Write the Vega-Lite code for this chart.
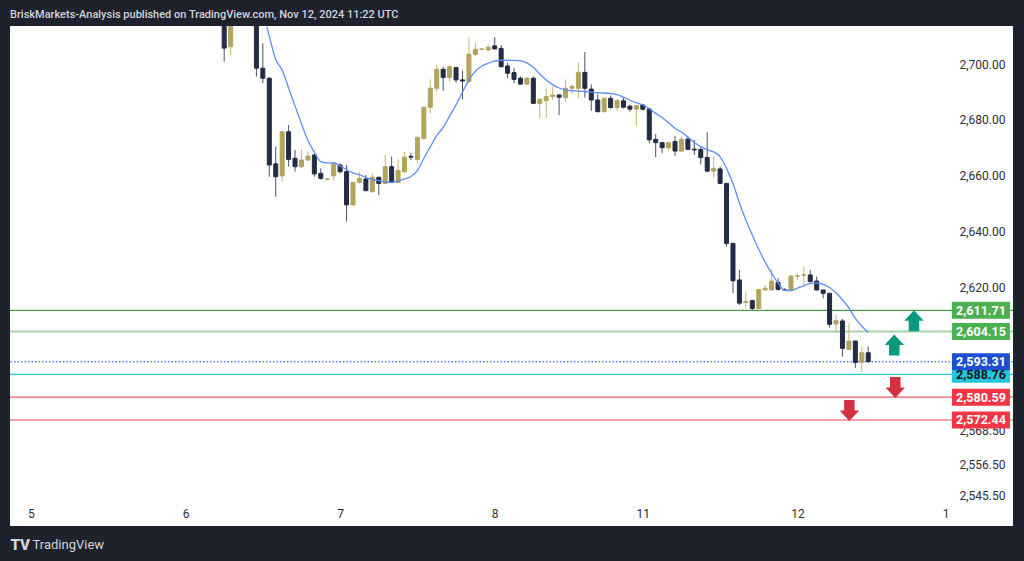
{
  "$schema": "https://vega.github.io/schema/vega-lite/v6.json",
  "width": 1003,
  "height": 500,
  "autosize": {"type": "none"},
  "padding": {"left": 10, "top": 26, "right": 11, "bottom": 35},
  "background": "#1e222d",
  "view": {"fill": "#ffffff", "stroke": null},
  "config": {"font": "Roboto"},
  "title": {
    "text": "BriskMarkets-Analysis published on TradingView.com, Nov 12, 2024 11:22 UTC",
    "anchor": "start",
    "frame": "group",
    "baseline": "alphabetic",
    "offset": 9,
    "dy": 12,
    "color": "#d1d4dc",
    "font": "Roboto",
    "fontSize": 11,
    "fontWeight": 500
  },
  "datasets": {
    "candles": [
      {"t": 30, "o": 2713.6, "h": 2713.6, "l": 2700.8, "c": 2705.7},
      {"t": 31, "o": 2706.2, "h": 2713.6, "l": 2703.2, "c": 2713.6},
      {"t": 35, "o": 2713.6, "h": 2713.6, "l": 2695.5, "c": 2698.5},
      {"t": 36, "o": 2698.5, "h": 2707.4, "l": 2693.1, "c": 2694.9},
      {"t": 37, "o": 2694.9, "h": 2695.3, "l": 2659.6, "c": 2663.8},
      {"t": 38, "o": 2664.2, "h": 2670.4, "l": 2652.4, "c": 2659.6},
      {"t": 39, "o": 2659.9, "h": 2676.0, "l": 2657.8, "c": 2675.7},
      {"t": 40, "o": 2675.7, "h": 2678.1, "l": 2663.2, "c": 2665.8},
      {"t": 41, "o": 2666.2, "h": 2669.2, "l": 2661.4, "c": 2663.2},
      {"t": 42, "o": 2663.2, "h": 2669.4, "l": 2662.6, "c": 2665.6},
      {"t": 43, "o": 2665.6, "h": 2668.6, "l": 2665.3, "c": 2667.0},
      {"t": 44, "o": 2667.4, "h": 2667.8, "l": 2659.6, "c": 2660.6},
      {"t": 45, "o": 2660.8, "h": 2662.6, "l": 2658.6, "c": 2659.0},
      {"t": 46, "o": 2658.6, "h": 2658.9, "l": 2658.4, "c": 2658.8},
      {"t": 47, "o": 2659.9, "h": 2664.4, "l": 2658.2, "c": 2664.2},
      {"t": 48, "o": 2663.8, "h": 2664.4, "l": 2660.8, "c": 2661.4},
      {"t": 49, "o": 2661.4, "h": 2663.8, "l": 2643.5, "c": 2649.5},
      {"t": 50, "o": 2649.5, "h": 2657.8, "l": 2649.3, "c": 2657.5},
      {"t": 51, "o": 2657.5, "h": 2661.4, "l": 2657.2, "c": 2659.0},
      {"t": 52, "o": 2658.8, "h": 2660.2, "l": 2654.4, "c": 2654.6},
      {"t": 53, "o": 2654.2, "h": 2660.8, "l": 2654.0, "c": 2659.4},
      {"t": 54, "o": 2659.4, "h": 2659.6, "l": 2653.0, "c": 2657.2},
      {"t": 55, "o": 2657.2, "h": 2667.4, "l": 2657.0, "c": 2663.2},
      {"t": 56, "o": 2663.2, "h": 2666.8, "l": 2657.3, "c": 2657.5},
      {"t": 57, "o": 2657.5, "h": 2665.8, "l": 2657.3, "c": 2661.8},
      {"t": 58, "o": 2661.4, "h": 2668.6, "l": 2660.8, "c": 2666.6},
      {"t": 59, "o": 2666.9, "h": 2668.2, "l": 2665.6, "c": 2666.6},
      {"t": 60, "o": 2665.8, "h": 2674.0, "l": 2664.4, "c": 2673.7},
      {"t": 61, "o": 2673.3, "h": 2684.8, "l": 2672.8, "c": 2684.5},
      {"t": 62, "o": 2684.5, "h": 2694.5, "l": 2682.3, "c": 2691.3},
      {"t": 63, "o": 2691.3, "h": 2699.6, "l": 2690.1, "c": 2698.1},
      {"t": 64, "o": 2698.1, "h": 2699.0, "l": 2690.4, "c": 2695.2},
      {"t": 65, "o": 2695.2, "h": 2699.6, "l": 2693.7, "c": 2699.0},
      {"t": 66, "o": 2698.7, "h": 2699.0, "l": 2693.4, "c": 2694.3},
      {"t": 67, "o": 2694.3, "h": 2697.6, "l": 2687.3, "c": 2693.9},
      {"t": 68, "o": 2693.7, "h": 2709.8, "l": 2693.1, "c": 2703.5},
      {"t": 69, "o": 2703.5, "h": 2707.6, "l": 2702.9, "c": 2705.3},
      {"t": 70, "o": 2705.2, "h": 2705.5, "l": 2705.0, "c": 2705.4},
      {"t": 71, "o": 2705.0, "h": 2707.0, "l": 2704.7, "c": 2706.0},
      {"t": 72, "o": 2706.5, "h": 2709.6, "l": 2705.2, "c": 2705.4},
      {"t": 73, "o": 2705.6, "h": 2706.8, "l": 2698.8, "c": 2699.0},
      {"t": 74, "o": 2699.3, "h": 2700.5, "l": 2694.9, "c": 2696.7},
      {"t": 75, "o": 2696.9, "h": 2698.5, "l": 2693.1, "c": 2694.5},
      {"t": 76, "o": 2694.9, "h": 2695.5, "l": 2692.6, "c": 2692.8},
      {"t": 77, "o": 2692.8, "h": 2695.2, "l": 2692.6, "c": 2694.9},
      {"t": 78, "o": 2694.9, "h": 2695.5, "l": 2685.6, "c": 2685.9},
      {"t": 79, "o": 2685.9, "h": 2687.7, "l": 2680.5, "c": 2687.3},
      {"t": 80, "o": 2686.8, "h": 2691.3, "l": 2680.5, "c": 2688.3},
      {"t": 81, "o": 2688.3, "h": 2691.9, "l": 2687.1, "c": 2688.9},
      {"t": 82, "o": 2688.9, "h": 2689.1, "l": 2681.7, "c": 2688.1},
      {"t": 83, "o": 2687.9, "h": 2694.5, "l": 2686.5, "c": 2691.3},
      {"t": 84, "o": 2691.3, "h": 2692.7, "l": 2689.1, "c": 2691.9},
      {"t": 85, "o": 2691.3, "h": 2700.6, "l": 2687.7, "c": 2697.0},
      {"t": 86, "o": 2697.0, "h": 2704.3, "l": 2687.9, "c": 2691.3},
      {"t": 87, "o": 2691.0, "h": 2692.7, "l": 2683.2, "c": 2687.1},
      {"t": 88, "o": 2687.1, "h": 2689.1, "l": 2682.7, "c": 2682.9},
      {"t": 89, "o": 2682.9, "h": 2688.0, "l": 2682.7, "c": 2687.7},
      {"t": 90, "o": 2687.7, "h": 2688.7, "l": 2683.9, "c": 2684.4},
      {"t": 91, "o": 2684.4, "h": 2687.5, "l": 2683.2, "c": 2686.9},
      {"t": 92, "o": 2686.8, "h": 2687.9, "l": 2684.1, "c": 2684.5},
      {"t": 93, "o": 2684.9, "h": 2685.5, "l": 2682.9, "c": 2683.8},
      {"t": 94, "o": 2683.8, "h": 2685.3, "l": 2677.9, "c": 2685.1},
      {"t": 95, "o": 2685.3, "h": 2685.7, "l": 2683.3, "c": 2683.8},
      {"t": 96, "o": 2683.9, "h": 2684.1, "l": 2671.6, "c": 2672.8},
      {"t": 97, "o": 2673.0, "h": 2674.9, "l": 2666.6, "c": 2671.8},
      {"t": 98, "o": 2671.8, "h": 2672.0, "l": 2668.0, "c": 2670.0},
      {"t": 99, "o": 2670.0, "h": 2672.2, "l": 2668.8, "c": 2671.8},
      {"t": 100, "o": 2672.2, "h": 2674.3, "l": 2667.1, "c": 2668.8},
      {"t": 101, "o": 2668.8, "h": 2674.0, "l": 2668.6, "c": 2673.0},
      {"t": 102, "o": 2673.1, "h": 2674.0, "l": 2669.2, "c": 2669.4},
      {"t": 103, "o": 2669.5, "h": 2672.8, "l": 2667.4, "c": 2669.2},
      {"t": 104, "o": 2669.4, "h": 2670.4, "l": 2664.0, "c": 2666.5},
      {"t": 105, "o": 2666.5, "h": 2675.5, "l": 2661.2, "c": 2661.6},
      {"t": 106, "o": 2661.6, "h": 2666.8, "l": 2659.3, "c": 2662.6},
      {"t": 107, "o": 2662.4, "h": 2663.2, "l": 2656.9, "c": 2657.2},
      {"t": 108, "o": 2657.2, "h": 2657.4, "l": 2634.5, "c": 2635.7},
      {"t": 109, "o": 2635.7, "h": 2636.0, "l": 2617.8, "c": 2622.3},
      {"t": 110, "o": 2622.6, "h": 2626.2, "l": 2613.6, "c": 2614.3},
      {"t": 111, "o": 2614.6, "h": 2618.4, "l": 2612.4, "c": 2614.9},
      {"t": 112, "o": 2615.2, "h": 2615.5, "l": 2611.8, "c": 2612.4},
      {"t": 113, "o": 2612.4, "h": 2619.3, "l": 2611.0, "c": 2619.2},
      {"t": 114, "o": 2619.0, "h": 2620.8, "l": 2618.9, "c": 2619.6},
      {"t": 115, "o": 2619.0, "h": 2626.5, "l": 2618.9, "c": 2622.2},
      {"t": 116, "o": 2621.7, "h": 2623.2, "l": 2618.8, "c": 2619.2},
      {"t": 117, "o": 2619.2, "h": 2619.6, "l": 2618.6, "c": 2619.0},
      {"t": 118, "o": 2619.0, "h": 2624.2, "l": 2618.4, "c": 2624.0},
      {"t": 119, "o": 2623.9, "h": 2625.0, "l": 2622.6, "c": 2624.1},
      {"t": 120, "o": 2624.3, "h": 2627.4, "l": 2620.8, "c": 2624.5},
      {"t": 121, "o": 2624.4, "h": 2626.2, "l": 2621.8, "c": 2622.0},
      {"t": 122, "o": 2622.2, "h": 2623.8, "l": 2618.8, "c": 2619.0},
      {"t": 123, "o": 2619.0, "h": 2619.2, "l": 2616.0, "c": 2617.8},
      {"t": 124, "o": 2617.8, "h": 2618.0, "l": 2605.5, "c": 2606.7},
      {"t": 125, "o": 2606.8, "h": 2610.0, "l": 2603.8, "c": 2608.0},
      {"t": 126, "o": 2607.9, "h": 2608.6, "l": 2595.1, "c": 2598.1},
      {"t": 127, "o": 2597.7, "h": 2607.0, "l": 2597.5, "c": 2600.7},
      {"t": 128, "o": 2600.7, "h": 2600.9, "l": 2591.1, "c": 2593.0},
      {"t": 129, "o": 2593.1, "h": 2598.7, "l": 2589.5, "c": 2596.5},
      {"t": 130, "o": 2596.5, "h": 2598.7, "l": 2593.0, "c": 2593.31}
    ],
    "ema": [
      {"t": 36.6, "v": 2713.4}, {"t": 37, "v": 2710.0}, {"t": 38, "v": 2701.6}, {"t": 39, "v": 2697.8},
      {"t": 40, "v": 2691.4}, {"t": 41, "v": 2685.0}, {"t": 42, "v": 2678.6}, {"t": 43, "v": 2672.6},
      {"t": 44, "v": 2668.4}, {"t": 45, "v": 2665.0}, {"t": 46, "v": 2664.5}, {"t": 47, "v": 2664.6},
      {"t": 48, "v": 2663.5}, {"t": 49, "v": 2662.1}, {"t": 50, "v": 2661.0}, {"t": 51, "v": 2660.3},
      {"t": 52, "v": 2659.3}, {"t": 53, "v": 2658.6}, {"t": 54, "v": 2658.2}, {"t": 55, "v": 2657.8},
      {"t": 56, "v": 2657.6}, {"t": 57, "v": 2658.0}, {"t": 58, "v": 2658.8}, {"t": 59, "v": 2659.7},
      {"t": 60, "v": 2661.8}, {"t": 61, "v": 2666.2}, {"t": 62, "v": 2670.3}, {"t": 63, "v": 2674.3},
      {"t": 64, "v": 2677.3}, {"t": 65, "v": 2681.3}, {"t": 66, "v": 2685.4}, {"t": 67, "v": 2689.9},
      {"t": 68, "v": 2694.3}, {"t": 69, "v": 2697.4}, {"t": 70, "v": 2699.3}, {"t": 71, "v": 2700.3},
      {"t": 72, "v": 2701.0}, {"t": 73, "v": 2701.4}, {"t": 74, "v": 2701.3}, {"t": 75, "v": 2701.3},
      {"t": 76, "v": 2701.2}, {"t": 77, "v": 2700.4}, {"t": 78, "v": 2698.8}, {"t": 79, "v": 2696.4},
      {"t": 80, "v": 2694.3}, {"t": 81, "v": 2692.6}, {"t": 82, "v": 2691.4}, {"t": 83, "v": 2690.7},
      {"t": 84, "v": 2690.4}, {"t": 85, "v": 2690.3}, {"t": 86, "v": 2690.1}, {"t": 87, "v": 2689.9},
      {"t": 88, "v": 2689.7}, {"t": 89, "v": 2689.6}, {"t": 90, "v": 2689.4}, {"t": 91, "v": 2689.0},
      {"t": 92, "v": 2688.1}, {"t": 93, "v": 2687.0}, {"t": 94, "v": 2686.1}, {"t": 95, "v": 2685.4},
      {"t": 96, "v": 2684.0}, {"t": 97, "v": 2682.3}, {"t": 98, "v": 2680.8}, {"t": 99, "v": 2678.9},
      {"t": 100, "v": 2677.0}, {"t": 101, "v": 2675.6}, {"t": 102, "v": 2673.8}, {"t": 103, "v": 2671.9},
      {"t": 104, "v": 2670.4}, {"t": 105, "v": 2669.3}, {"t": 106, "v": 2668.5}, {"t": 107, "v": 2666.8},
      {"t": 108, "v": 2662.6}, {"t": 109, "v": 2657.2}, {"t": 110, "v": 2650.2}, {"t": 111, "v": 2644.1},
      {"t": 112, "v": 2638.7}, {"t": 113, "v": 2633.6}, {"t": 114, "v": 2629.0}, {"t": 115, "v": 2625.0},
      {"t": 116, "v": 2621.5}, {"t": 117, "v": 2618.9}, {"t": 118, "v": 2618.8}, {"t": 119, "v": 2619.7},
      {"t": 120, "v": 2620.5}, {"t": 121, "v": 2621.4}, {"t": 122, "v": 2621.5}, {"t": 123, "v": 2621.0},
      {"t": 124, "v": 2619.9}, {"t": 125, "v": 2618.0}, {"t": 126, "v": 2615.5}, {"t": 127, "v": 2612.6},
      {"t": 128, "v": 2608.8}, {"t": 129, "v": 2606.0}, {"t": 130, "v": 2603.8}
    ],
    "levels": [
      {"k": "g1", "p": 2611.71},
      {"k": "g2", "p": 2604.15},
      {"k": "cy", "p": 2588.76},
      {"k": "last", "p": 2593.31},
      {"k": "r1", "p": 2580.59},
      {"k": "r2", "p": 2572.44}
    ],
    "arrows": [
      {"t": 134.05, "p": 2599.3, "dir": "up"},
      {"t": 137.1, "p": 2608.0, "dir": "up"},
      {"t": 134.2, "p": 2584.05, "dir": "down"},
      {"t": 127.07, "p": 2575.8, "dir": "down"}
    ]
  },
  "layer": [
    {
      "data": {"name": "levels"},
      "mark": {"type": "rule", "clip": true},
      "encoding": {
        "y": {"field": "p", "type": "quantitative", "scale": {"domain": [2534.41, 2713.62], "nice": false, "zero": false},
          "axis": {
            "orient": "right",
            "values": [2700, 2680, 2660, 2640, 2620, 2568.5, 2556.5, 2545.5],
            "format": ",.2f",
            "domain": false, "ticks": false, "grid": false,
            "labelAlign": "right", "labelPadding": -8, "labelBaseline": "middle",
            "labelColor": "#2a2e39", "labelFontSize": 12, "labelFont": "Roboto",
            "labelOverlap": false, "labelFlush": false,
            "title": "TV", "titleAngle": 0, "titleAlign": "left", "titleBaseline": "middle",
            "titleX": -1003, "titleY": 518, "titleColor": "#d1d4dc", "titleFont": "Roboto",
            "titleFontSize": 15, "titleFontWeight": 900
          }},
        "color": {
          "condition": [
            {"test": "datum.k == 'g1'", "value": "#43a047"},
            {"test": "datum.k == 'g2'", "value": "#a5d6a7"},
            {"test": "datum.k == 'cy'", "value": "#26c6da"},
            {"test": "datum.k == 'last'", "value": "#5b7fe8"},
            {"test": "datum.k == 'r1'", "value": "#ef5a66"}
          ],
          "value": "#f5a3aa"
        },
        "strokeWidth": {
          "condition": [
            {"test": "datum.k == 'g2' || datum.k == 'r2'", "value": 2},
            {"test": "datum.k == 'last'", "value": 1.5}
          ],
          "value": 1.2
        },
        "strokeDash": {
          "condition": {"test": "datum.k == 'last'", "value": [1.5, 2]},
          "value": [1, 0]
        }
      }
    },
    {
      "data": {"name": "candles"},
      "mark": {"type": "rule", "clip": true, "strokeWidth": 1},
      "encoding": {
        "x": {"field": "t", "type": "quantitative", "scale": {"domain": [-3.26, 152.48], "nice": false, "zero": false, "padding": 0},
          "axis": {
            "values": [0, 24, 48, 72, 95, 119, 142],
            "labelExpr": "datum.value == 0 ? '5' : datum.value == 24 ? '6' : datum.value == 48 ? '7' : datum.value == 72 ? '8' : datum.value == 95 ? '11' : datum.value == 119 ? '12' : '1'",
            "domain": false, "ticks": false, "grid": false,
            "labelPadding": -13, "labelBaseline": "middle",
            "labelColor": "#2a2e39", "labelFontSize": 12, "labelFont": "Roboto",
            "labelFlush": false, "labelOverlap": false,
            "title": "TradingView", "titleAnchor": "start", "titleAlign": "left", "titleBaseline": "middle",
            "titleX": 22, "titleY": 18, "titleColor": "#d1d4dc", "titleFont": "Roboto",
            "titleFontSize": 13, "titleFontWeight": "normal"
          }},
        "y": {"field": "l", "type": "quantitative", "scale": {"domain": [2534.41, 2713.62], "nice": false, "zero": false},
          "axis": {
            "orient": "right",
            "values": [2700, 2680, 2660, 2640, 2620, 2568.5, 2556.5, 2545.5],
            "format": ",.2f",
            "domain": false, "ticks": false, "grid": false,
            "labelAlign": "right", "labelPadding": -8, "labelBaseline": "middle",
            "labelColor": "#2a2e39", "labelFontSize": 12, "labelFont": "Roboto",
            "labelOverlap": false, "labelFlush": false,
            "title": "TV", "titleAngle": 0, "titleAlign": "left", "titleBaseline": "middle",
            "titleX": -1003, "titleY": 518, "titleColor": "#d1d4dc", "titleFont": "Roboto",
            "titleFontSize": 15, "titleFontWeight": 900
          }},
        "y2": {"field": "h"},
        "color": {"condition": {"test": "datum.c >= datum.o", "value": "#c4b574"}, "value": "#4b5269"}
      }
    },
    {
      "data": {"name": "candles"},
      "mark": {"type": "bar", "clip": true, "size": 4, "strokeWidth": 1},
      "encoding": {
        "x": {"field": "t", "type": "quantitative", "scale": {"domain": [-3.26, 152.48], "nice": false, "zero": false, "padding": 0},
          "axis": {
            "values": [0, 24, 48, 72, 95, 119, 142],
            "labelExpr": "datum.value == 0 ? '5' : datum.value == 24 ? '6' : datum.value == 48 ? '7' : datum.value == 72 ? '8' : datum.value == 95 ? '11' : datum.value == 119 ? '12' : '1'",
            "domain": false, "ticks": false, "grid": false,
            "labelPadding": -13, "labelBaseline": "middle",
            "labelColor": "#2a2e39", "labelFontSize": 12, "labelFont": "Roboto",
            "labelFlush": false, "labelOverlap": false,
            "title": "TradingView", "titleAnchor": "start", "titleAlign": "left", "titleBaseline": "middle",
            "titleX": 22, "titleY": 18, "titleColor": "#d1d4dc", "titleFont": "Roboto",
            "titleFontSize": 13, "titleFontWeight": "normal"
          }},
        "y": {"field": "o", "type": "quantitative", "scale": {"domain": [2534.41, 2713.62], "nice": false, "zero": false},
          "axis": {
            "orient": "right",
            "values": [2700, 2680, 2660, 2640, 2620, 2568.5, 2556.5, 2545.5],
            "format": ",.2f",
            "domain": false, "ticks": false, "grid": false,
            "labelAlign": "right", "labelPadding": -8, "labelBaseline": "middle",
            "labelColor": "#2a2e39", "labelFontSize": 12, "labelFont": "Roboto",
            "labelOverlap": false, "labelFlush": false,
            "title": "TV", "titleAngle": 0, "titleAlign": "left", "titleBaseline": "middle",
            "titleX": -1003, "titleY": 518, "titleColor": "#d1d4dc", "titleFont": "Roboto",
            "titleFontSize": 15, "titleFontWeight": 900
          }},
        "y2": {"field": "c"},
        "color": {"condition": {"test": "datum.c >= datum.o", "value": "#b3a45b"}, "value": "#232c44"},
        "stroke": {"condition": {"test": "datum.c >= datum.o", "value": "#b3a45b"}, "value": "#232c44"}
      }
    },
    {
      "data": {"name": "ema"},
      "mark": {"type": "line", "clip": true, "color": "#5b8ff5", "strokeWidth": 1.3, "interpolate": "monotone"},
      "encoding": {
        "x": {"field": "t", "type": "quantitative", "scale": {"domain": [-3.26, 152.48], "nice": false, "zero": false, "padding": 0},
          "axis": {
            "values": [0, 24, 48, 72, 95, 119, 142],
            "labelExpr": "datum.value == 0 ? '5' : datum.value == 24 ? '6' : datum.value == 48 ? '7' : datum.value == 72 ? '8' : datum.value == 95 ? '11' : datum.value == 119 ? '12' : '1'",
            "domain": false, "ticks": false, "grid": false,
            "labelPadding": -13, "labelBaseline": "middle",
            "labelColor": "#2a2e39", "labelFontSize": 12, "labelFont": "Roboto",
            "labelFlush": false, "labelOverlap": false,
            "title": "TradingView", "titleAnchor": "start", "titleAlign": "left", "titleBaseline": "middle",
            "titleX": 22, "titleY": 18, "titleColor": "#d1d4dc", "titleFont": "Roboto",
            "titleFontSize": 13, "titleFontWeight": "normal"
          }},
        "y": {"field": "v", "type": "quantitative", "scale": {"domain": [2534.41, 2713.62], "nice": false, "zero": false},
          "axis": {
            "orient": "right",
            "values": [2700, 2680, 2660, 2640, 2620, 2568.5, 2556.5, 2545.5],
            "format": ",.2f",
            "domain": false, "ticks": false, "grid": false,
            "labelAlign": "right", "labelPadding": -8, "labelBaseline": "middle",
            "labelColor": "#2a2e39", "labelFontSize": 12, "labelFont": "Roboto",
            "labelOverlap": false, "labelFlush": false,
            "title": "TV", "titleAngle": 0, "titleAlign": "left", "titleBaseline": "middle",
            "titleX": -1003, "titleY": 518, "titleColor": "#d1d4dc", "titleFont": "Roboto",
            "titleFontSize": 15, "titleFontWeight": 900
          }}
      }
    },
    {
      "data": {"name": "arrows"},
      "mark": {"type": "point", "filled": true, "size": 441, "opacity": 1, "strokeWidth": 0},
      "encoding": {
        "x": {"field": "t", "type": "quantitative", "scale": {"domain": [-3.26, 152.48], "nice": false, "zero": false, "padding": 0},
          "axis": {
            "values": [0, 24, 48, 72, 95, 119, 142],
            "labelExpr": "datum.value == 0 ? '5' : datum.value == 24 ? '6' : datum.value == 48 ? '7' : datum.value == 72 ? '8' : datum.value == 95 ? '11' : datum.value == 119 ? '12' : '1'",
            "domain": false, "ticks": false, "grid": false,
            "labelPadding": -13, "labelBaseline": "middle",
            "labelColor": "#2a2e39", "labelFontSize": 12, "labelFont": "Roboto",
            "labelFlush": false, "labelOverlap": false,
            "title": "TradingView", "titleAnchor": "start", "titleAlign": "left", "titleBaseline": "middle",
            "titleX": 22, "titleY": 18, "titleColor": "#d1d4dc", "titleFont": "Roboto",
            "titleFontSize": 13, "titleFontWeight": "normal"
          }},
        "y": {"field": "p", "type": "quantitative", "scale": {"domain": [2534.41, 2713.62], "nice": false, "zero": false},
          "axis": {
            "orient": "right",
            "values": [2700, 2680, 2660, 2640, 2620, 2568.5, 2556.5, 2545.5],
            "format": ",.2f",
            "domain": false, "ticks": false, "grid": false,
            "labelAlign": "right", "labelPadding": -8, "labelBaseline": "middle",
            "labelColor": "#2a2e39", "labelFontSize": 12, "labelFont": "Roboto",
            "labelOverlap": false, "labelFlush": false,
            "title": "TV", "titleAngle": 0, "titleAlign": "left", "titleBaseline": "middle",
            "titleX": -1003, "titleY": 518, "titleColor": "#d1d4dc", "titleFont": "Roboto",
            "titleFontSize": 15, "titleFontWeight": 900
          }},
        "shape": {
          "condition": {"test": "datum.dir == 'up'", "value": "M0,-1L0.93,0L0.5,0L0.5,1L-0.5,1L-0.5,0L-0.93,0Z"},
          "value": "M0,1L0.93,0L0.5,0L0.5,-1L-0.5,-1L-0.5,0L-0.93,0Z"
        },
        "color": {"condition": {"test": "datum.dir == 'up'", "value": "#089981"}, "value": "#d2323f"}
      }
    },
    {
      "data": {"name": "levels"},
      "mark": {"type": "point", "filled": true, "size": 3364, "opacity": 1, "strokeWidth": 0,
        "shape": "M-1,-0.293L1,-0.293L1,0.293L-1,0.293Z"},
      "encoding": {
        "x": {"datum": 147.5, "type": "quantitative", "scale": {"domain": [-3.26, 152.48], "nice": false, "zero": false, "padding": 0},
          "axis": {
            "values": [0, 24, 48, 72, 95, 119, 142],
            "labelExpr": "datum.value == 0 ? '5' : datum.value == 24 ? '6' : datum.value == 48 ? '7' : datum.value == 72 ? '8' : datum.value == 95 ? '11' : datum.value == 119 ? '12' : '1'",
            "domain": false, "ticks": false, "grid": false,
            "labelPadding": -13, "labelBaseline": "middle",
            "labelColor": "#2a2e39", "labelFontSize": 12, "labelFont": "Roboto",
            "labelFlush": false, "labelOverlap": false,
            "title": "TradingView", "titleAnchor": "start", "titleAlign": "left", "titleBaseline": "middle",
            "titleX": 22, "titleY": 18, "titleColor": "#d1d4dc", "titleFont": "Roboto",
            "titleFontSize": 13, "titleFontWeight": "normal"
          }},
        "y": {"field": "p", "type": "quantitative", "scale": {"domain": [2534.41, 2713.62], "nice": false, "zero": false},
          "axis": {
            "orient": "right",
            "values": [2700, 2680, 2660, 2640, 2620, 2568.5, 2556.5, 2545.5],
            "format": ",.2f",
            "domain": false, "ticks": false, "grid": false,
            "labelAlign": "right", "labelPadding": -8, "labelBaseline": "middle",
            "labelColor": "#2a2e39", "labelFontSize": 12, "labelFont": "Roboto",
            "labelOverlap": false, "labelFlush": false,
            "title": "TV", "titleAngle": 0, "titleAlign": "left", "titleBaseline": "middle",
            "titleX": -1003, "titleY": 518, "titleColor": "#d1d4dc", "titleFont": "Roboto",
            "titleFontSize": 15, "titleFontWeight": 900
          }},
        "color": {
          "condition": [
            {"test": "datum.k == 'g1' || datum.k == 'g2'", "value": "#4caf50"},
            {"test": "datum.k == 'cy'", "value": "#26c6da"},
            {"test": "datum.k == 'last'", "value": "#1e4fd0"}
          ],
          "value": "#f23645"
        }
      }
    },
    {
      "data": {"name": "levels"},
      "mark": {"type": "text", "font": "Roboto", "fontSize": 12.5, "fontWeight": "bold", "align": "center", "baseline": "middle", "dy": 0.5},
      "encoding": {
        "x": {"datum": 147.5, "type": "quantitative", "scale": {"domain": [-3.26, 152.48], "nice": false, "zero": false, "padding": 0},
          "axis": {
            "values": [0, 24, 48, 72, 95, 119, 142],
            "labelExpr": "datum.value == 0 ? '5' : datum.value == 24 ? '6' : datum.value == 48 ? '7' : datum.value == 72 ? '8' : datum.value == 95 ? '11' : datum.value == 119 ? '12' : '1'",
            "domain": false, "ticks": false, "grid": false,
            "labelPadding": -13, "labelBaseline": "middle",
            "labelColor": "#2a2e39", "labelFontSize": 12, "labelFont": "Roboto",
            "labelFlush": false, "labelOverlap": false,
            "title": "TradingView", "titleAnchor": "start", "titleAlign": "left", "titleBaseline": "middle",
            "titleX": 22, "titleY": 18, "titleColor": "#d1d4dc", "titleFont": "Roboto",
            "titleFontSize": 13, "titleFontWeight": "normal"
          }},
        "y": {"field": "p", "type": "quantitative", "scale": {"domain": [2534.41, 2713.62], "nice": false, "zero": false},
          "axis": {
            "orient": "right",
            "values": [2700, 2680, 2660, 2640, 2620, 2568.5, 2556.5, 2545.5],
            "format": ",.2f",
            "domain": false, "ticks": false, "grid": false,
            "labelAlign": "right", "labelPadding": -8, "labelBaseline": "middle",
            "labelColor": "#2a2e39", "labelFontSize": 12, "labelFont": "Roboto",
            "labelOverlap": false, "labelFlush": false,
            "title": "TV", "titleAngle": 0, "titleAlign": "left", "titleBaseline": "middle",
            "titleX": -1003, "titleY": 518, "titleColor": "#d1d4dc", "titleFont": "Roboto",
            "titleFontSize": 15, "titleFontWeight": 900
          }},
        "text": {"field": "p", "type": "quantitative", "format": ",.2f"},
        "color": {"condition": {"test": "datum.k == 'cy'", "value": "#131722"}, "value": "#ffffff"}
      }
    }
  ]
}
